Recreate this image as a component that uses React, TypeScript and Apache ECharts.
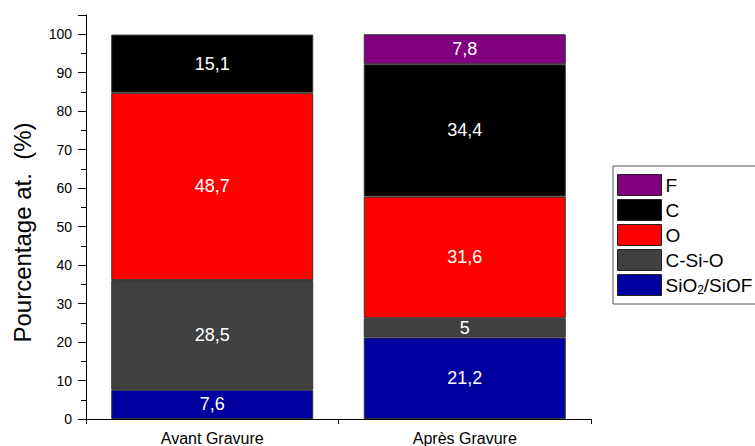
import React, { useEffect, useRef } from "react";
import * as echarts from "echarts";

const categories = ["Avant Gravure", "Après Gravure"];
const seriesNames = ["SiO2/SiOF", "C-Si-O", "O", "C", "F"];
const sio2 = [7.6, 21.2];
const csio = [28.5, 5];
const oxy = [48.7, 31.6];
const carb = [15.1, 34.4];
const fluo = [null, 7.8];
const colors = ["#0000A0", "#404040", "#FF0000", "#000000", "#800080"];
const legendOrder = ["F", "C", "O", "C-Si-O", "SiO2/SiOF"];
const yTicks = [0, 10, 20, 30, 40, 50, 60, 70, 80, 90, 100];

export default function App() {
  const ref = useRef<HTMLDivElement>(null);
  useEffect(() => {
    if (!ref.current) return;
    const chart = echarts.init(ref.current, null, { renderer: "svg" });
    const values = [sio2, csio, oxy, carb, fluo];
    const font = "Liberation Sans, Arial, sans-serif";
    chart.setOption({
      animation: false,
      textStyle: { fontFamily: font },
      grid: { left: 86, top: 15, right: 164, bottom: 25, containLabel: false },
      legend: {
        data: legendOrder,
        orient: "vertical",
        left: 613,
        top: 166,
        padding: [8, 40, 8, 4],
        itemWidth: 44,
        itemHeight: 21,
        itemGap: 3,
        borderColor: "#555",
        borderWidth: 1,
        borderRadius: 0,
        selectedMode: false,
        icon: "rect",
        itemStyle: { borderColor: "#222", borderWidth: 1 },
        formatter: (name: string) =>
          name === "SiO2/SiOF" ? "{a|SiO}{s|2}{a|/SiOF}" : "{a|" + name + "}",
        textStyle: {
          fontFamily: font,
          fontSize: 19,
          color: "#000",
          padding: [0, 0, 0, -1],
          rich: {
            a: { fontSize: 19, color: "#000", fontFamily: font },
            s: { fontSize: 12, color: "#000", fontFamily: font, padding: [10, 0, 0, 0] },
          },
        },
      },
      xAxis: [
        {
          type: "category",
          data: categories,
          axisLine: { lineStyle: { color: "#000", width: 1 } },
          axisTick: { alignWithLabel: true, length: 7, lineStyle: { color: "#000" } },
          axisLabel: { color: "#000", fontSize: 16, margin: 11, fontFamily: font },
        },
        {
          type: "category",
          data: categories,
          position: "bottom",
          axisLine: { show: false },
          axisTick: { show: true, length: 5, lineStyle: { color: "#000" } },
          axisLabel: { show: false },
        },
      ],
      yAxis: {
        type: "value",
        min: 0,
        max: 105,
        interval: 10,
        name: "Pourcentage at.  (%)",
        nameLocation: "middle",
        nameGap: 52,
        nameTextStyle: { fontSize: 24, color: "#000", fontFamily: font, padding: [0, 31, 0, 0] },
        axisLine: { show: true, lineStyle: { color: "#000", width: 1 } },
        axisTick: { show: true, length: 8, lineStyle: { color: "#000" } },
        minorTick: { show: true, splitNumber: 2, length: 5, lineStyle: { color: "#000" } },
        splitLine: { show: false },
        axisLabel: {
          color: "#000",
          fontSize: 14,
          margin: 14,
          fontFamily: font,
          formatter: (v: number) => (yTicks.includes(v) ? String(v) : ""),
        },
      },
      series: seriesNames.map((n, i) => ({
        name: n,
        type: "bar",
        stack: "total",
        barCategoryGap: "20%",
        data: values[i],
        itemStyle: { color: colors[i], borderColor: "#333", borderWidth: 1 },
        label: {
          show: true,
          position: "inside",
          color: "#fff",
          fontSize: 18,
          fontFamily: font,
          formatter: (p: any) => String(p.value).replace(".", ","),
        },
      })),
    });
    return () => chart.dispose();
  }, []);
  return <div ref={ref} style={{ width: 755, height: 446, position: "absolute", left: 0, top: 0 }} />;
}
